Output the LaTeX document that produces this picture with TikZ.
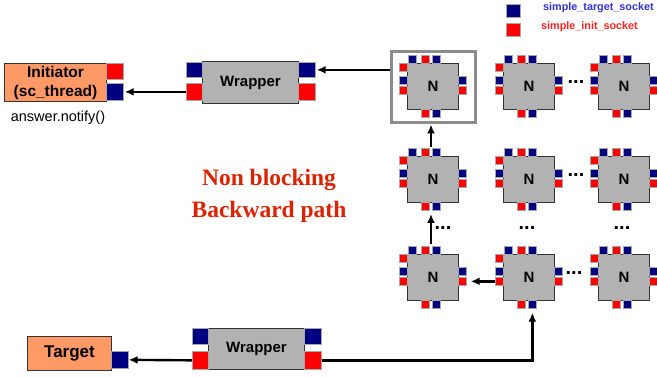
\documentclass[tikz,border=0pt]{standalone}
\usepackage{fontspec}
\setmainfont{Liberation Sans}
\newfontfamily\serifbold{Liberation Serif}
\usetikzlibrary{arrows.meta}
\definecolor{navyb}{HTML}{000080}
\definecolor{sred}{HTML}{FF0000}
\definecolor{boxgray}{HTML}{B2B2B2}
\definecolor{orng}{HTML}{FF9966}
\definecolor{titlered}{HTML}{DD2200}
\definecolor{legblue}{HTML}{3333CC}
\definecolor{legred}{HTML}{FF2222}
\definecolor{framegray}{HTML}{8C8C8C}
\newcommand\fsz[1]{\fontsize{#1}{#1}\selectfont}
\newcommand\Nblock[3]{%
  \node[nbox] (#1) at (#2,#3) {N};
  \node[tsock] (#1-tl) at (#2+1,#3-8) {};
  \node[isock] (#1-ti) at (#2+14,#3-8) {};
  \node[tsock] (#1-tt) at (#2+25,#3-8) {};
  \node[isock] (#1-bi) at (#2+14,#3+46) {};
  \node[tsock] (#1-bt) at (#2+25,#3+46) {};
  \node[isock] (#1-lu) at (#2-8,#3) {};
  \node[tsock] (#1-lt) at (#2-8,#3+13) {};
  \node[isock] (#1-li) at (#2-8,#3+23) {};
  \node[tsock] (#1-rt) at (#2+51,#3+13) {};
  \node[isock] (#1-ri) at (#2+51,#3+23) {};
  \coordinate (#1-up) at (#2+24,#3-9);
  \coordinate (#1-dn) at (#2+24,#3+55);
}
\begin{document}
\begin{tikzpicture}[x=1pt,y=-1pt,
  sock/.style={draw=gray!70, line width=0.7pt, inner sep=0pt, anchor=north west,
    minimum width=8pt, minimum height=8pt},
  tsock/.style={sock, fill=navyb},
  isock/.style={sock, fill=sred},
  nbox/.style={draw=black!80, line width=1pt, fill=boxgray, anchor=north west,
    minimum width=51pt, minimum height=46pt, inner sep=0pt, font=\fsz{15}\bfseries},
  wbox/.style={draw=black!80, line width=1pt, fill=boxgray, anchor=north west,
    minimum width=96pt, inner sep=0pt, font=\fsz{15}\bfseries},
  obox/.style={draw=black!80, line width=1pt, fill=orng, anchor=north west,
    inner sep=0pt, align=center},
  arr/.style={-{Latex[length=9pt,width=8pt]}, line width=2.4pt},
  dots/.style={font=\fsz{20}\bfseries, inner sep=0pt},
]
\useasboundingbox (0,0) rectangle (657,377);

% legend
\node[tsock, minimum width=14pt, minimum height=13pt] (lgt) at (506,4) {};
\node[isock, minimum width=14pt, minimum height=13pt] (lgi) at (506,23) {};
\node[anchor=west, inner sep=0pt, text=legblue, font=\fsz{10.8}\bfseries] (lgtt) at (543,7.5) {simple\_target\_socket};
\node[anchor=west, inner sep=0pt, text=legred, font=\fsz{10.8}\bfseries] (lgit) at (541,26.5) {simple\_init\_socket};

% initiator
\node[obox, minimum width=102pt, minimum height=38pt, font=\fontsize{15.5}{19}\selectfont\bfseries] (ini) at (4,63) {Initiator\\(sc\_thread)};
\node[isock, minimum width=17pt, minimum height=16pt] (ini-i) at (106,63) {};
\node[tsock, minimum width=17pt, minimum height=17pt] (ini-t) at (106,83) {};
\node[font=\fsz{14.5}, inner sep=0pt] (ans) at (58,118) {answer.notify()};

% top wrapper
\node[wbox, minimum height=42pt] (wt) at (202,61) {Wrapper};
\node[tsock, minimum width=16pt, minimum height=15pt] (wt-lt) at (186,62) {};
\node[isock, minimum width=16pt, minimum height=17pt] (wt-li) at (186,83) {};
\node[tsock, minimum width=17pt, minimum height=15pt] (wt-rt) at (298,62) {};
\node[isock, minimum width=17pt, minimum height=17pt] (wt-ri) at (298,83) {};

% target
\node[obox, minimum width=84pt, minimum height=34pt, font=\fsz{17}\bfseries] (tg) at (27,336) {Target};
\node[tsock, minimum width=17pt, minimum height=17pt] (tg-t) at (111,351) {};

% bottom wrapper
\node[wbox, minimum height=41pt] (wb) at (208,328) {Wrapper};
\node[tsock, minimum width=16pt, minimum height=16pt] (wb-lt) at (192,328) {};
\node[isock, minimum width=16pt, minimum height=18pt] (wb-li) at (192,351) {};
\node[tsock, minimum width=17pt, minimum height=16pt] (wb-rt) at (304,328) {};
\node[isock, minimum width=17pt, minimum height=18pt] (wb-ri) at (304,351) {};

% highlight frame
\node[draw=framegray, line width=3pt, anchor=north west, inner sep=0pt,
  minimum width=84pt, minimum height=71pt] (hl) at (389.5,50.5) {};

% grid of N nodes
\Nblock{n11}{407}{63}
\Nblock{n12}{503}{63}
\Nblock{n13}{598}{63}
\Nblock{n21}{407}{156}
\Nblock{n22}{503}{156}
\Nblock{n23}{598}{156}
\Nblock{n31}{407}{254}
\Nblock{n32}{503}{254}
\Nblock{n33}{598}{254}

% dots
\node[dots] (d1) at (576,82) {...};
\node[dots] (d2) at (576,175) {...};
\node[dots] (d3) at (574,273) {...};
\node[dots] (d4) at (443,228) {...};
\node[dots] (d5) at (527,228) {...};
\node[dots] (d6) at (622,228) {...};

% title
\node[text=titlered, font=\serifbold\fontsize{23.5}{32}\selectfont\bfseries, align=center] (ttl) at (269,196) {Non blocking\\Backward path};

% connectors
\draw[arr] (hl.west |- wt-rt.east) -- ([xshift=1pt]wt-rt.east);
\draw[arr] (wt-li.west) -- ([xshift=1pt]ini-t.east);
\draw[arr] (n21-up) -- (n21-up |- hl.south);
\draw[arr, shorten >=3pt, shorten <=1pt] (n31-up) -- (n21-dn);
\draw[arr, shorten >=4pt] (n32-li.west) -- (n31-ri.east);
\draw[arr, shorten >=4pt] (wb-ri.east) -| (n32-bt.south);
\draw[arr] (wb-li.west) -- (tg-t.east);
\end{tikzpicture}
\end{document}
